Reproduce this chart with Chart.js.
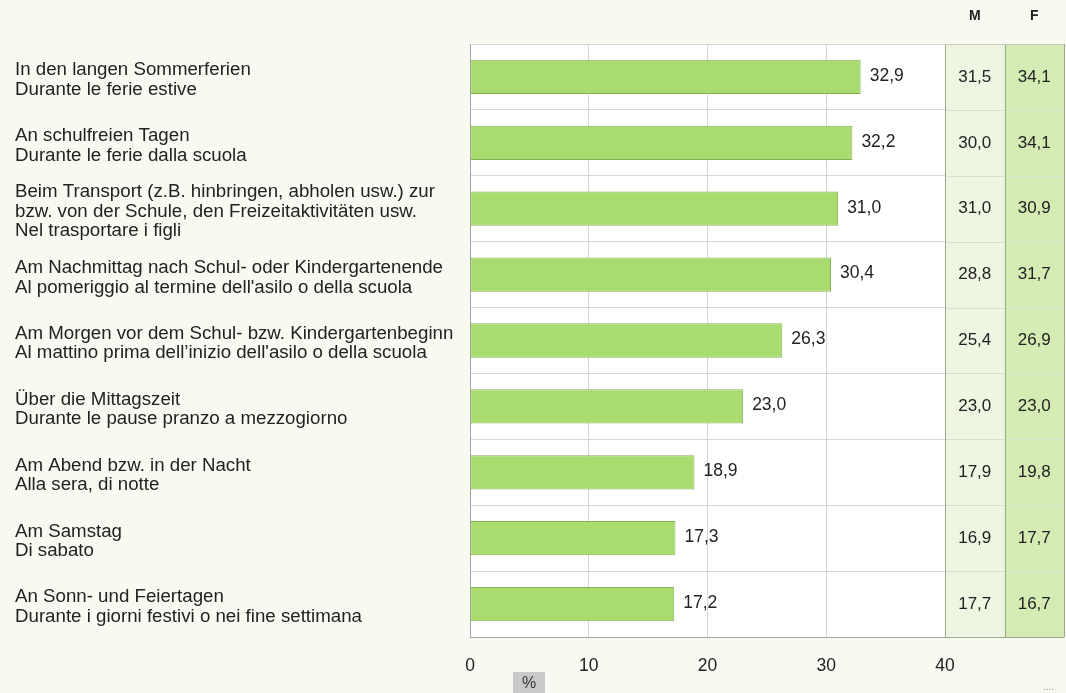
<!DOCTYPE html>
<html>
<head>
<meta charset="utf-8">
<script src="https://cdn.jsdelivr.net/npm/chart.js@4/dist/chart.umd.min.js"></script>
<style>
html,body{margin:0;padding:0;background:#f8faf1;}
#wrap{width:1066px;height:693px;position:relative;}
</style>
</head>
<body>
<div id="wrap"><canvas id="c" width="1066" height="693"></canvas></div>
<script>
const categories = [
  ["In den langen Sommerferien", "Durante le ferie estive"],
  ["An schulfreien Tagen", "Durante le ferie dalla scuola"],
  ["Beim Transport (z.B. hinbringen, abholen usw.) zur", "bzw. von der Schule, den Freizeitaktivitäten usw.", "Nel trasportare i figli"],
  ["Am Nachmittag nach Schul- oder Kindergartenende", "Al pomeriggio al termine dell'asilo o della scuola"],
  ["Am Morgen vor dem Schul- bzw. Kindergartenbeginn", "Al mattino prima dell’inizio dell'asilo o della scuola"],
  ["Über die Mittagszeit", "Durante le pause pranzo a mezzogiorno"],
  ["Am Abend bzw. in der Nacht", "Alla sera, di notte"],
  ["Am Samstag", "Di sabato"],
  ["An Sonn- und Feiertagen", "Durante i giorni festivi o nei fine settimana"]
];
const totalValues = [32.9, 32.2, 31.0, 30.4, 26.3, 23.0, 18.9, 17.3, 17.2];
const maleValues = [31.5, 30.0, 31.0, 28.8, 25.4, 23.0, 17.9, 16.9, 17.7];
const femaleValues = [34.1, 34.1, 30.9, 31.7, 26.9, 23.0, 19.8, 17.7, 16.7];
const columnHeaders = ["M", "F"];
const axisUnit = "%";

const fmt = v => v.toFixed(1).replace('.', ',');
const FONT = '"Liberation Sans", Arial, sans-serif';

const sidePlugin = {
  id: 'side',
  beforeDraw(chart) {
    const ctx = chart.ctx, a = chart.chartArea;
    ctx.save();
    ctx.fillStyle = '#ffffff';
    ctx.fillRect(a.left, a.top, a.right - a.left, a.bottom - a.top);
    const colW = 59.5;
    ctx.fillStyle = '#eef5e1';
    ctx.fillRect(a.right, a.top, colW, a.bottom - a.top);
    ctx.fillStyle = '#d5ebb4';
    ctx.fillRect(a.right + colW, a.top, colW, a.bottom - a.top);
    ctx.restore();
  },
  afterDraw(chart) {
    const ctx = chart.ctx, a = chart.chartArea, y = chart.scales.y;
    const colW = 59.5;
    ctx.save();
    ctx.strokeStyle = '#d9dfd0';
    ctx.lineWidth = 1;
    const n = categories.length;
    for (let i = 0; i <= n; i++) {
      const py = Math.round(y.getPixelForValue(i - 0.5)) + 0.5;
      ctx.beginPath();
      ctx.moveTo(a.right, py);
      ctx.lineTo(a.right + 2 * colW, py);
      ctx.stroke();
    }
    ctx.strokeStyle = '#9aaa8a';
    [a.right, a.right + colW, a.right + 2 * colW].forEach(px => {
      ctx.beginPath();
      ctx.moveTo(Math.round(px) + 0.5, a.top);
      ctx.lineTo(Math.round(px) + 0.5, a.bottom);
      ctx.stroke();
    });
    ctx.beginPath();
    ctx.moveTo(a.right, Math.round(a.bottom) + 0.5);
    ctx.lineTo(a.right + 2 * colW, Math.round(a.bottom) + 0.5);
    ctx.stroke();
    ctx.strokeStyle = '#c8cfbd';
    ctx.beginPath();
    ctx.moveTo(a.right, Math.round(a.top) + 0.5);
    ctx.lineTo(a.right + 2 * colW, Math.round(a.top) + 0.5);
    ctx.stroke();

    ctx.fillStyle = '#222';
    ctx.font = '17px ' + FONT;
    ctx.textAlign = 'center';
    ctx.textBaseline = 'middle';
    for (let i = 0; i < n; i++) {
      const py = y.getPixelForValue(i);
      ctx.fillText(fmt(maleValues[i]), a.right + colW / 2, py);
      ctx.fillText(fmt(femaleValues[i]), a.right + colW * 1.5, py);
    }
    ctx.font = 'bold 14px ' + FONT;
    ctx.fillText(columnHeaders[0], a.right + colW / 2, 16);
    ctx.fillText(columnHeaders[1], a.right + colW * 1.5, 16);

    ctx.font = '17.5px ' + FONT;
    ctx.textAlign = 'left';
    const meta = chart.getDatasetMeta(0);
    meta.data.forEach((bar, i) => {
      ctx.fillText(fmt(totalValues[i]), bar.x + 9, bar.y - 1);
    });

    ctx.fillStyle = '#c9c9c9';
    ctx.fillRect(513, 672, 32, 21);
    ctx.fillStyle = '#333';
    ctx.font = '16px ' + FONT;
    ctx.textAlign = 'center';
    ctx.fillText(axisUnit, 529, 684);

    ctx.fillStyle = '#999';
    ctx.font = '10px ' + FONT;
    ctx.textAlign = 'left';
    ctx.fillText('....', 1043, 687);
    ctx.restore();
  }
};

new Chart(document.getElementById('c'), {
  type: 'bar',
  data: {
    labels: categories,
    datasets: [{
      data: totalValues,
      backgroundColor: '#a9dc6f',
      borderColor: '#88b259',
      borderWidth: 1,
      borderSkipped: false,
      barPercentage: 0.52,
      categoryPercentage: 1
    }]
  },
  options: {
    indexAxis: 'y',
    responsive: false,
    devicePixelRatio: 1,
    animation: false,
    layout: { padding: { left: 15, right: 121, top: 44, bottom: 0 } },
    plugins: { legend: { display: false }, tooltip: { enabled: false } },
    scales: {
      x: {
        min: 0, max: 40,
        ticks: { stepSize: 10, color: '#222', font: { family: FONT, size: 17.5 }, padding: 19 },
        grid: { color: '#d6d6d6', drawTicks: false },
        border: { color: '#a3a3a3' },
        afterFit(scale) { scale.height = 56; }
      },
      y: {
        ticks: { crossAlign: 'far', labelOffset: 3, color: '#222', font: { family: FONT, size: 18.7, lineHeight: '19.5px' } },
        grid: { color: '#d6d6d6', drawTicks: false, offset: true },
        border: { color: '#a3a3a3' },
        afterFit(scale) { scale.width = 455; }
      }
    }
  },
  plugins: [sidePlugin]
});
</script>
</body>
</html>
